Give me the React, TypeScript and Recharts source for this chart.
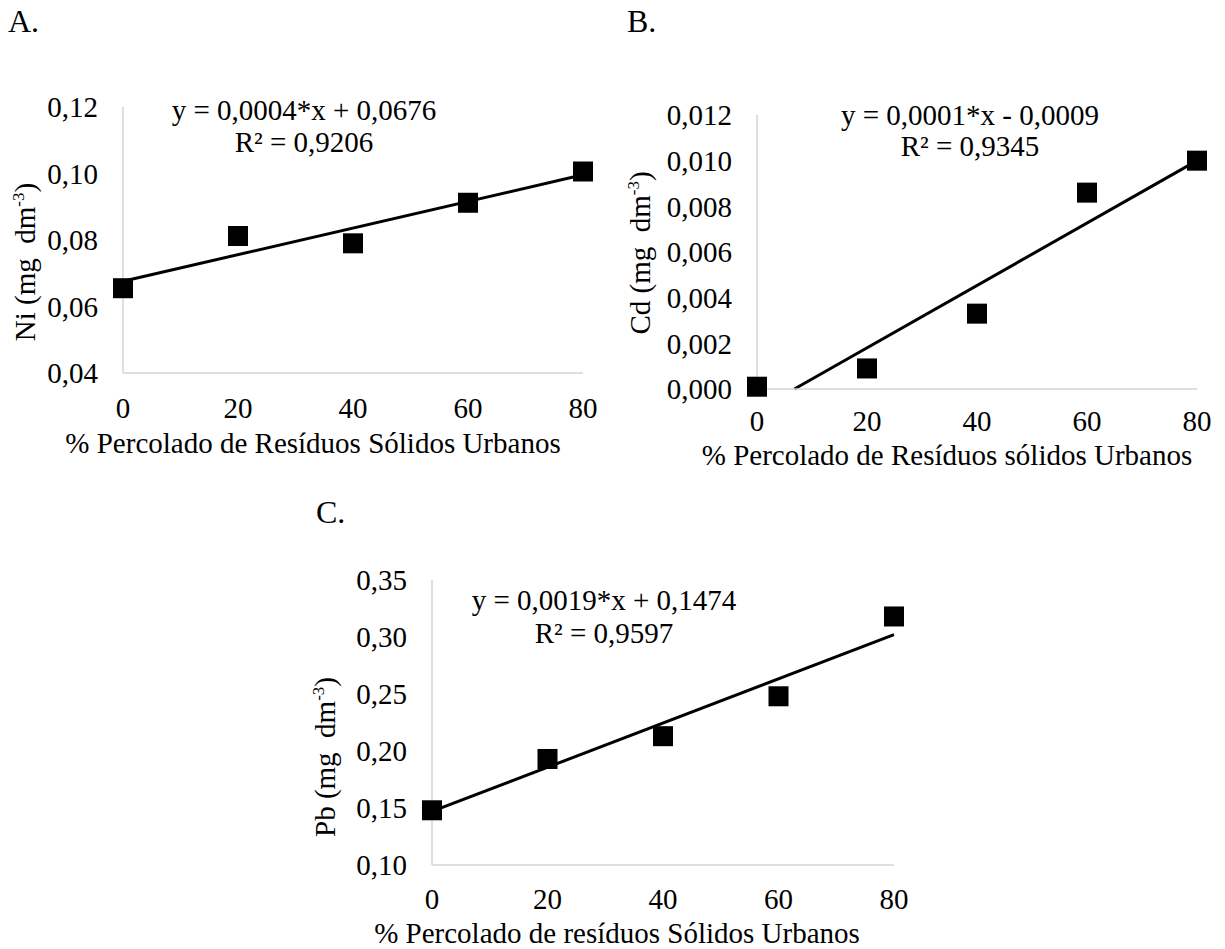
import React from 'react';
import { ComposedChart, XAxis, YAxis, Scatter, Line, Label } from 'recharts';

const FONT = '"Liberation Serif", "Times New Roman", serif';
const AXIS = '#d4d4d4';
const FS = 29;

// % percolado (x) for every panel
const xPct = [0, 20, 40, 60, 80];
const xTicks = [0, 20, 40, 60, 80];

// A. Ni
const niValues = [0.0655, 0.0812, 0.079, 0.0912, 0.1006];
const niTicks = [0.04, 0.06, 0.08, 0.1, 0.12];
const niTrendX = [0, 80];
const niTrendY = [0.0676, 0.0996];

// B. Cd
const cdValues = [0.0001, 0.0009, 0.0033, 0.0086, 0.01];
const cdTicks = [0, 0.002, 0.004, 0.006, 0.008, 0.01, 0.012];
const cdTrendX = [6.8, 80];
const cdTrendY = [0, 0.01];

// C. Pb
const pbValues = [0.148, 0.193, 0.213, 0.248, 0.318];
const pbTicks = [0.1, 0.15, 0.2, 0.25, 0.3, 0.35];
const pbTrendX = [0, 80];
const pbTrendY = [0.147, 0.302];

const Square = (props: any) => {
  const { cx, cy } = props;
  if (cx == null || cy == null) return null;
  return <rect x={cx - 10} y={cy - 10} width={20} height={20} fill="#000" />;
};

type PanelProps = {
  left: number;
  top: number;
  width: number;
  height: number;
  margin: { top: number; right: number; bottom: number; left: number };
  yWidth: number;
  values: number[];
  trendX: number[];
  trendY: number[];
  yTicks: number[];
  digits: number;
  xTickGap: number;
  xTitle: string;
  xTitlePos: [number, number];
  element: string;
  yTitlePos: [number, number];
};

const Panel = (p: PanelProps) => {
  const points = xPct.map((x, i) => ({ x, y: p.values[i] }));
  const trend = p.trendX.map((x, i) => ({ x, y: p.trendY[i] }));
  const tx = p.xTitlePos[0] - p.left;
  const ty = p.xTitlePos[1] - p.top;
  const yx = p.yTitlePos[0] - p.left;
  const yy = p.yTitlePos[1] - p.top;
  const tickStyle = { fill: '#000', fontSize: FS, fontFamily: FONT };

  return (
    <div style={{ position: 'absolute', left: p.left, top: p.top, width: p.width, height: p.height }}>
      <ComposedChart width={p.width} height={p.height} margin={p.margin}>
        <XAxis
          type="number"
          dataKey="x"
          domain={[0, 80]}
          ticks={xTicks}
          interval={0}
          height={80}
          tickLine={false}
          tickSize={0}
          tickMargin={p.xTickGap}
          axisLine={{ stroke: AXIS, strokeWidth: 1.5 }}
          tick={tickStyle}
        >
          <Label
            content={() => (
              <text x={tx} y={ty} textAnchor="middle" fontSize={FS} fontFamily={FONT} fill="#000">
                {p.xTitle}
              </text>
            )}
          />
        </XAxis>
        <YAxis
          type="number"
          dataKey="y"
          domain={[p.yTicks[0], p.yTicks[p.yTicks.length - 1]]}
          ticks={p.yTicks}
          interval={0}
          width={p.yWidth}
          tickLine={false}
          tickSize={0}
          tickMargin={25}
          axisLine={{ stroke: AXIS, strokeWidth: 1.5 }}
          tick={tickStyle}
          tickFormatter={(v: number) => v.toFixed(p.digits).replace('.', ',')}
        >
          <Label
            content={() => (
              <text
                x={yx}
                y={yy}
                transform={`rotate(-90, ${yx}, ${yy})`}
                textAnchor="middle"
                fontSize={FS}
                fontFamily={FONT}
                fill="#000"
                style={{ whiteSpace: 'pre' }}
              >
                {p.element + ' (mg  dm'}
                <tspan fontSize={17} dy={-11}>-3</tspan>
                <tspan dy={11}>)</tspan>
              </text>
            )}
          />
        </YAxis>
        <Line
          data={trend}
          dataKey="y"
          type="linear"
          stroke="#000"
          strokeWidth={3}
          dot={false}
          activeDot={false}
          isAnimationActive={false}
        />
        <Scatter data={points} dataKey="y" shape={Square} isAnimationActive={false} />
      </ComposedChart>
    </div>
  );
};

const textStyle = { fontSize: FS, fontFamily: FONT, fill: '#000' };

export default function App() {
  return (
    <div style={{ position: 'absolute', left: 0, top: 0, width: 1225, height: 949, background: '#fff' }}>
      <Panel
        left={0}
        top={60}
        width={620}
        height={420}
        margin={{ top: 47, right: 37, bottom: 27, left: 0 }}
        yWidth={123}
        values={niValues}
        trendX={niTrendX}
        trendY={niTrendY}
        yTicks={niTicks}
        digits={2}
        xTickGap={24}
        xTitle="% Percolado de Resíduos Sólidos Urbanos"
        xTitlePos={[313, 453]}
        element="Ni"
        yTitlePos={[35, 262]}
      />
      <Panel
        left={620}
        top={60}
        width={605}
        height={420}
        margin={{ top: 55, right: 28, bottom: 11, left: 0 }}
        yWidth={137}
        values={cdValues}
        trendX={cdTrendX}
        trendY={cdTrendY}
        yTicks={cdTicks}
        digits={3}
        xTickGap={21}
        xTitle="% Percolado de Resíduos sólidos Urbanos"
        xTitlePos={[947, 465]}
        element="Cd"
        yTitlePos={[650, 253]}
      />
      <Panel
        left={300}
        top={520}
        width={620}
        height={429}
        margin={{ top: 60, right: 26, bottom: 4, left: 0 }}
        yWidth={132}
        values={pbValues}
        trendX={pbTrendX}
        trendY={pbTrendY}
        yTicks={pbTicks}
        digits={2}
        xTickGap={23}
        xTitle="% Percolado de resíduos Sólidos Urbanos"
        xTitlePos={[617, 943]}
        element="Pb"
        yTitlePos={[335, 757]}
      />
      <svg
        width={1225}
        height={949}
        style={{ position: 'absolute', left: 0, top: 0, pointerEvents: 'none' }}
      >
        <text x={8} y={32} fontSize={32} fontFamily={FONT} fill="#000">A.</text>
        <text x={627} y={32} fontSize={32} fontFamily={FONT} fill="#000">B.</text>
        <text x={316} y={523} fontSize={32} fontFamily={FONT} fill="#000">C.</text>

        <text x={304} y={120} textAnchor="middle" {...textStyle}>y = 0,0004*x + 0,0676</text>
        <text x={304} y={152} textAnchor="middle" {...textStyle}>R² = 0,9206</text>

        <text x={970} y={125} textAnchor="middle" {...textStyle}>y = 0,0001*x - 0,0009</text>
        <text x={970} y={156} textAnchor="middle" {...textStyle}>R² = 0,9345</text>

        <text x={604} y={610} textAnchor="middle" {...textStyle}>y = 0,0019*x + 0,1474</text>
        <text x={604} y={643} textAnchor="middle" {...textStyle}>R² = 0,9597</text>
      </svg>
    </div>
  );
}
